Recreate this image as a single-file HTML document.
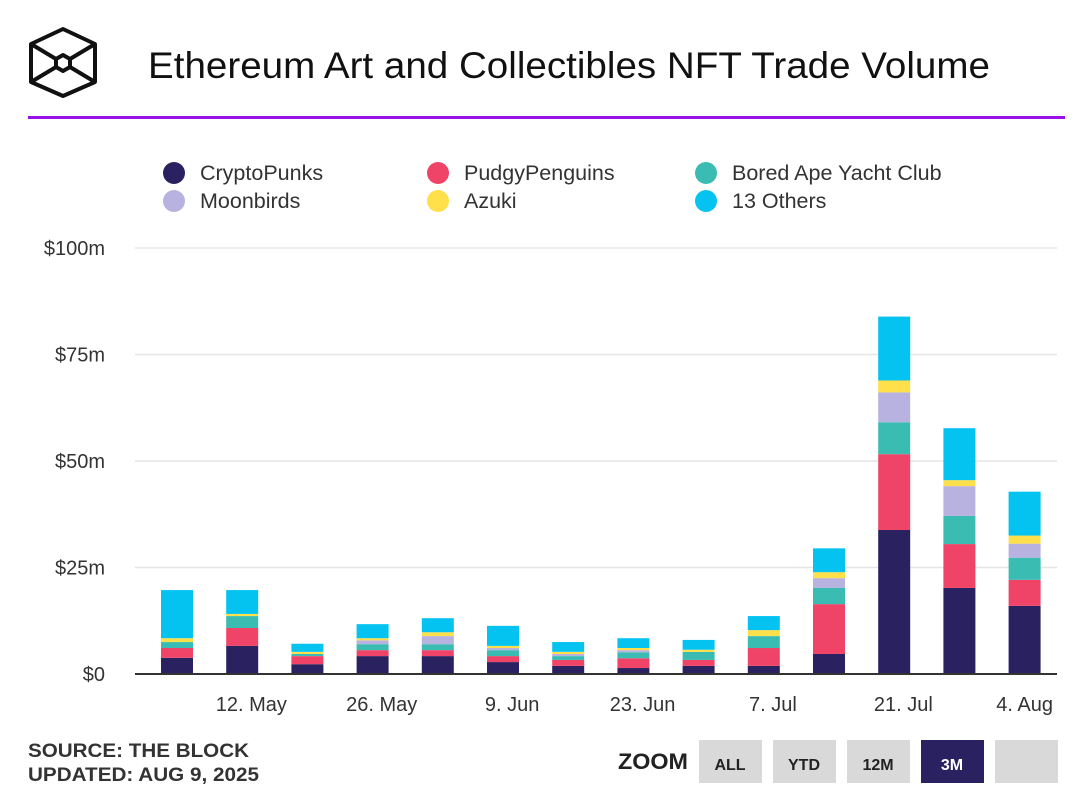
<!DOCTYPE html>
<html><head><meta charset="utf-8"><style>
body{margin:0;width:1092px;height:800px;background:#fff;font-family:"Liberation Sans",sans-serif;overflow:hidden}
</style></head><body>
<svg width="1092" height="800">
<g fill="none" stroke="#111" stroke-width="4" stroke-linejoin="round">
<polygon points="63,29 95,44 95,82 63,96 31,82 31,44"/>
<polygon points="63,55 70,59 70,67 63,71 56,67 56,59"/>
<line x1="31" y1="44" x2="56" y2="59"/><line x1="95" y1="44" x2="70" y2="59"/>
<line x1="31" y1="82" x2="56" y2="67"/><line x1="95" y1="82" x2="70" y2="67"/>
</g>
<text x="148" y="78" font-size="37" fill="#111" textLength="842" lengthAdjust="spacingAndGlyphs">Ethereum Art and Collectibles NFT Trade Volume</text>
<rect x="28" y="116" width="1037" height="3" fill="#9b10e8"/>
<g id="legend"></g>
<g id="grid"></g>
<g id="bars"></g>
<g id="xlabels"></g>
<text x="28" y="757" font-size="19" font-weight="bold" fill="#333" textLength="221" lengthAdjust="spacingAndGlyphs">SOURCE: THE BLOCK</text>
<text x="28" y="781" font-size="19" font-weight="bold" fill="#333" textLength="231" lengthAdjust="spacingAndGlyphs">UPDATED: AUG 9, 2025</text>
<text x="618" y="769" font-size="22" font-weight="bold" fill="#222" textLength="70" lengthAdjust="spacingAndGlyphs">ZOOM</text>
<g><rect x="699" y="740" width="63" height="43" fill="#d9d9d9"/><text x="730" y="770" font-size="16" font-weight="bold" text-anchor="middle" fill="#222">ALL</text></g>
<g><rect x="773" y="740" width="63" height="43" fill="#d9d9d9"/><text x="804" y="770" font-size="16" font-weight="bold" text-anchor="middle" fill="#222">YTD</text></g>
<g><rect x="847" y="740" width="63" height="43" fill="#d9d9d9"/><text x="878" y="770" font-size="16" font-weight="bold" text-anchor="middle" fill="#222">12M</text></g>
<g><rect x="921" y="740" width="63" height="43" fill="#2a2160"/><text x="952" y="770" font-size="16" font-weight="bold" text-anchor="middle" fill="#fff">3M</text></g>
<g><rect x="995" y="740" width="63" height="43" fill="#d9d9d9"/></g>
</svg>
<script>
const seriesNames=["CryptoPunks","PudgyPenguins","Bored Ape Yacht Club","Moonbirds","Azuki","13 Others"];
const colors=["#2a2160","#ef4468","#3bbcb2","#b8b2e0","#ffdf4a","#05c3f0"];
const cryptoPunks=[3.8,6.6,2.3,4.2,4.2,2.8,1.9,1.4,1.9,1.9,4.7,33.8,20.2,16.0];
const pudgyPenguins=[2.3,4.2,1.9,1.4,1.4,1.4,1.4,2.3,1.4,4.2,11.7,17.8,10.3,6.1];
const boredApe=[1.4,2.8,0.5,1.4,1.4,1.4,0.9,1.4,1.9,2.8,3.8,7.5,6.6,5.2];
const moonbirds=[0,0,0,0.9,1.9,0.5,0.5,0.5,0,0,2.3,7.0,7.0,3.3];
const azuki=[0.9,0.5,0.5,0.5,0.9,0.5,0.5,0.5,0.5,1.4,1.4,2.8,1.4,1.9];
const others=[11.3,5.6,1.9,3.3,3.3,4.7,2.3,2.3,2.3,3.3,5.6,15.0,12.2,10.3];
const yTicks=[0,25,50,75,100];
const yTickLabels=["$0","$25m","$50m","$75m","$100m"];
const xLabels=["12. May","26. May","9. Jun","23. Jun","7. Jul","21. Jul","4. Aug"];
const xLabelIdx=[1.14,3.14,5.14,7.14,9.14,11.14,13.0];
const NS="http://www.w3.org/2000/svg";
const series=[cryptoPunks,pudgyPenguins,boredApe,moonbirds,azuki,others];
const y0=674,pxPer=4.26,x0=177,step=65.2,bw=32,left=135,right=1057;
const Y=v=>y0-v*pxPer, X=i=>x0+i*step;
function mk(t,a,p){const e=document.createElementNS(NS,t);for(const k in a)e.setAttribute(k,a[k]);p.appendChild(e);return e;}
const grid=document.getElementById('grid');
yTicks.forEach((v,i)=>{
 if(v>0){const l=mk('line',{x1:left,x2:right,y1:Y(v),y2:Y(v),stroke:'#e6e6e6','stroke-width':1.5},grid);
 
 }
 const t=mk('text',{x:105,y:Y(v)+7,'font-size':20,'text-anchor':'end',fill:'#333'},grid);t.textContent=yTickLabels[i];
 
 
});
const bars=document.getElementById('bars');
cryptoPunks.forEach((_,i)=>{let acc=0;series.forEach((s,k)=>{const v=s[i];if(v>0){const r=mk('rect',{x:X(i)-bw/2,y:Y(acc+v),width:bw,height:v*pxPer,fill:colors[k]},bars);
 
 }acc+=v;});});
const base=mk('line',{x1:left,x2:right,y1:y0,y2:y0,stroke:'#333','stroke-width':2},bars);


const xl=document.getElementById('xlabels');
xLabels.forEach((s,i)=>{const t=mk('text',{x:X(xLabelIdx[i]),y:711,'font-size':20,'text-anchor':'middle',fill:'#333'},xl);t.textContent=s;
 
 });
const lg=document.getElementById('legend');
const lx=[174,438,706],ly=[173,201];
seriesNames.forEach((n,i)=>{const g=mk('g',{},lg);
 
 
 const cx=lx[i%3],cy=ly[Math.floor(i/3)];
 mk('circle',{cx:cx,cy:cy,r:11,fill:colors[i]},g);
 const t=mk('text',{x:cx+26,y:cy+7,'font-size':21.5,fill:'#333'},g);t.textContent=n;});
</script>
</body></html>
